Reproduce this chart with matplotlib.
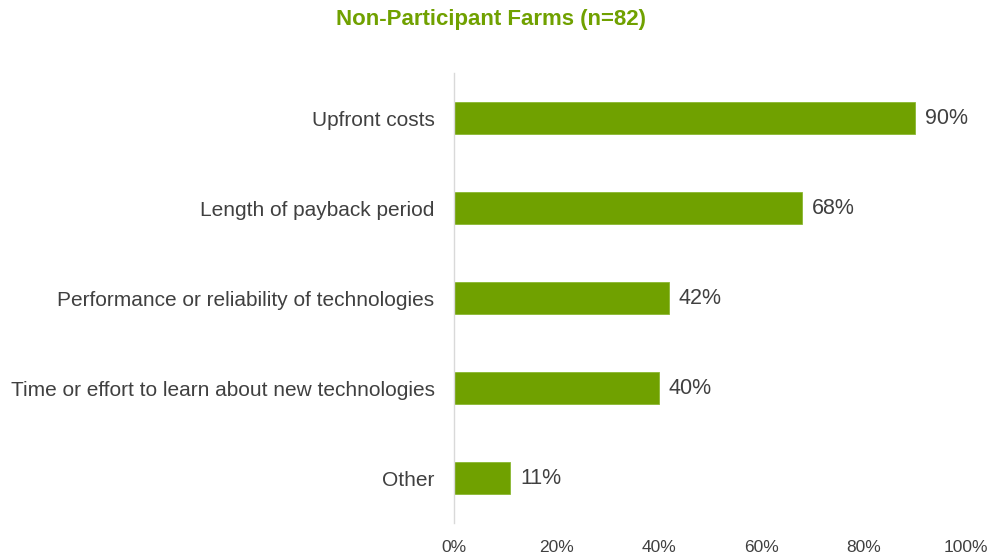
import matplotlib.pyplot as plt

plt.rcParams['font.family'] = ['Liberation Sans', 'DejaVu Sans']

categories = [
    "Upfront costs",
    "Length of payback period",
    "Performance or reliability of technologies",
    "Time or effort to learn about new technologies",
    "Other",
]
shares = [90, 68, 42, 40, 11]
xticks = [0, 20, 40, 60, 80, 100]

green = "#70a100"
text_grey = "#404040"

fig = plt.figure(figsize=(9.91, 5.57), dpi=100)
ax = fig.add_axes([0.4581, 0.0610, 0.5167, 0.8079])

ypos = list(range(len(categories)))
ax.barh(ypos, shares, height=0.36, color=green, edgecolor="#8ab832", linewidth=0.6)

for y, v in zip(ypos, shares):
    ax.text(v + 1.9, y, f"{v}%", va="center", ha="left", fontsize=15.5, color=text_grey)

ax.set_xlim(0, 100)
ax.set_ylim(len(categories) - 0.5, -0.5)
ax.set_yticks(ypos)
ax.set_yticklabels(categories, fontsize=15, color=text_grey)
ax.set_xticks(xticks)
ax.set_xticklabels([f"{t}%" for t in xticks], fontsize=12.5, color=text_grey)
ax.tick_params(axis="y", length=0, pad=14)
ax.tick_params(axis="x", length=0, pad=12)

for side in ["top", "right", "bottom"]:
    ax.spines[side].set_visible(False)
ax.spines["left"].set_color("#d9d9d9")
ax.spines["left"].set_linewidth(1)

fig.text(0.495, 0.965, "Non-Participant Farms (n=82)", ha="center", va="center",
         fontsize=16, fontweight="bold", color=green)

fig.savefig("out.png", dpi=100)
